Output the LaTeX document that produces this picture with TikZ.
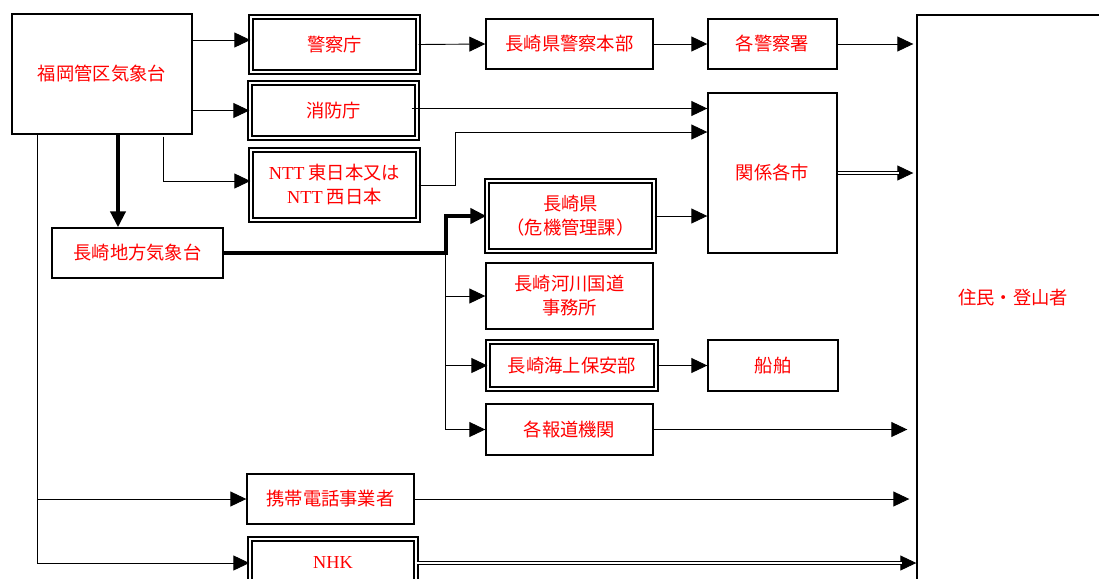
\documentclass[tikz,border=0pt]{standalone}
\usepackage{fontspec}
\setmainfont{Liberation Serif}
\newfontfamily\jp{Noto Sans CJK JP}
\usetikzlibrary{arrows.meta,calc}

\begin{document}
\begin{tikzpicture}[x=1pt,y=-1pt,
  >={Triangle[length=16pt,width=15pt]},
  box/.style={draw,line width=1.4pt,text=red,font=\fontsize{18.3}{24}\selectfont\jp,align=center,inner sep=0pt},
  dbox/.style={box,double,double distance=2.6pt,line width=1.3pt},
  link/.style={line width=0.9pt},
  bold/.style={line width=4pt},
  dlink/.style={double,double distance=2pt,line width=0.8pt}]
\useasboundingbox (0,0) rectangle (1099,578);
\clip (0,0) rectangle (1099,578);

% senders
\node [box,minimum width=180pt,minimum height=120pt] (fukuoka) at (102,74) {福岡管区気象台};
\node [box,minimum width=171pt,minimum height=50pt] (chiho) at (137.5,253) {長崎地方気象台};

% first column
\node [dbox,minimum width=167pt,minimum height=55pt] (keisatsucho) at (334.5,44.5) {警察庁};
\node [dbox,minimum width=167pt,minimum height=55pt] (shobocho) at (333.5,110.5) {消防庁};
\node [dbox,minimum width=167pt,minimum height=70pt] (ntt) at (334.5,185) {{\rmfamily NTT} 東日本又は\\{\rmfamily NTT} 西日本};
\node [box,minimum width=167pt,minimum height=50pt] (keitai) at (330.5,499) {携帯電話事業者};
\node [dbox,minimum width=166pt,minimum height=48pt] (nhk) at (333,563) {\rmfamily NHK};

% second column
\node [box,minimum width=167pt,minimum height=50pt] (kenkei) at (569.5,44) {長崎県警察本部};
\node [dbox,minimum width=167pt,minimum height=70pt] (ken) at (570.5,216) {長崎県\\（危機管理課）};
\node [box,minimum width=167pt,minimum height=66pt] (kasen) at (569.5,296) {長崎河川国道\\事務所};
\node [dbox,minimum width=168pt,minimum height=47pt] (kaiho) at (572,365.5) {長崎海上保安部};
\node [box,minimum width=167pt,minimum height=51pt] (hodo) at (569.5,429.5) {各報道機関};

% third column
\node [box,minimum width=129pt,minimum height=50pt] (kakusho) at (772.5,44) {各警察署};
\node [box,minimum width=129pt,minimum height=160pt] (kankei) at (772.5,173) {関係各市};
\node [box,minimum width=130pt,minimum height=51pt] (senpaku) at (773,365.5) {船舶};

% receivers
\node [box,minimum width=192pt,minimum height=566pt] (jumin) at (1013,298) {住民・登山者};

\coordinate (trunk) at ([xshift=26pt]fukuoka.south west);
\coordinate (junc) at ([xshift=222pt]chiho.east);
\coordinate (fkout) at ([yshift=34pt]fukuoka.east);
\coordinate (sbout) at ([xshift=-6pt,yshift=2pt]shobocho.east);

% from fukuoka
\draw [link,->] (fkout) -- (keisatsucho.west |- fkout);
\draw [link,->] (fukuoka.east |- shobocho.west) -- (shobocho.west);
\draw [link,->] ([xshift=-29pt,yshift=-2pt]fukuoka.south east) |- ([yshift=4pt]ntt.west);
\draw [bold,->] ([xshift=16pt]fukuoka.south) -- ([xshift=16pt]fukuoka.south |- chiho.north);
\draw [link,->] (trunk) |- (nhk.west);
\draw [link,->] (trunk |- keitai.west) -- (keitai.west);

% from chiho
\draw [bold,->] (chiho.east) -- (junc) |- (ken.west);
\draw [link,->] (junc) |- (hodo.west);
\draw [link,->] (junc |- kasen.west) -- (kasen.west);
\draw [link,->] (junc |- kaiho.west) -- (kaiho.west);

% onwards
\draw [link,->] (keisatsucho.east) -- (kenkei.west);
\draw [link,->] (kenkei.east) -- (kakusho.west);
\draw [link,->,shorten >=3pt] (kakusho.east) -- (jumin.west |- kakusho.east);
\draw [link,->] (sbout) -- (kankei.west |- sbout);
\draw [link,->] (ntt.east) -- ++(37,0) |- ([yshift=41pt]kankei.west);
\draw [link,->] (ken.east) -- (kankei.west |- ken.east);
\draw [link,->] (kaiho.east) -- (senpaku.west);
\draw [link,->,shorten >=9pt] (hodo.east) -- (jumin.west |- hodo.east);
\draw [link,->,shorten >=7pt] (keitai.east) -- (jumin.west |- keitai.east);

% double lines
\draw [link,->,shorten >=3pt] (kankei.east) -- (jumin.west |- kankei.east);
\draw [dlink,shorten >=17pt] (kankei.east) -- (jumin.west |- kankei.east);
\draw [link,->] (nhk.east) -- (jumin.west |- nhk.east);
\draw [dlink,shorten >=14pt] (nhk.east) -- (jumin.west |- nhk.east);
\end{tikzpicture}
\end{document}
